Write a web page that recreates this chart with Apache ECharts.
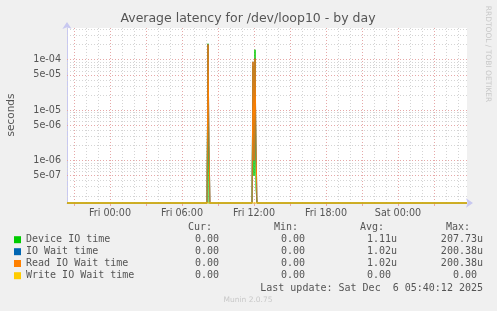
<!DOCTYPE html>
<html>
<head>
<meta charset="utf-8">
<script src="https://cdn.jsdelivr.net/npm/echarts@6/dist/echarts.min.js"></script>
<style>
html,body{margin:0;padding:0;background:#F0F0F0;}
#c{width:497px;height:311px;}
</style>
</head>
<body>
<div id="c"></div>
<script>
// ---- data ----
const titleText = 'Average latency for /dev/loop10 - by day';
const yAxisName = 'seconds';
const seriesNames = ['Device IO time', 'IO Wait time', 'Read IO Wait time', 'Write IO Wait time'];
// sample times in minutes relative to Fri 00:00
const sampleTimes = [-215, 485, 490, 495, 500, 710, 715, 720, 725, 730, 735, 740, 1785];
const deviceIO = [0, 0, 2.0773e-4, 0, 0, 0, 7.5e-5, 5e-7, 1.58e-4, 2.8e-7, 0, 0, 0];
const ioWait   = [0, 0, 2.0038e-4, 2e-6, 0, 0, 9.1e-5, 1e-6, 1.05e-4, 2e-6, 0, 0, 0];
const readWait = [0, 0, 2.0038e-4, 2e-6, 0, 0, 9.1e-5, 1e-6, 1.05e-4, 2e-6, 0, 0, 0];
const writeWait = [0, 0, 0, 0, 0, 0, 0, 0, 0, 0, 0, 0, 0];
const xTickValues = [0, 360, 720, 1080, 1440];
const xTickLabels = ['Fri 00:00', 'Fri 06:00', 'Fri 12:00', 'Fri 18:00', 'Sat 00:00'];
const yTickValues = [5e-7, 1e-6, 5e-6, 1e-5, 5e-5, 1e-4];
const yTickLabels = ['5e-07', '1e-06', '5e-06', '1e-05', '5e-05', '1e-04'];
const curValues = ['0.00', '0.00', '0.00', '0.00'];
const minValues = ['0.00', '0.00', '0.00', '0.00'];
const avgValues = ['1.11u', '1.02u', '1.02u', '0.00 '];
const maxValues = ['207.73u', '200.38u', '200.38u', '0.00 '];
const lastUpdate = 'Last update: Sat Dec  6 05:40:12 2025';
const footer = 'Munin 2.0.75';
const sideText = 'RRDTOOL / TOBI OETIKER';

// ---- config ----
const colors = ['#00CC00', '#0066B3', '#FF8000', '#FFCC00'];
const X_MIN = -215, X_MAX = 1785;
const Y_MIN = 1.435e-7, Y_MAX = 4.26e-4;
const LMIN = Math.log10(Y_MIN), LMAX = Math.log10(Y_MAX);
const gridColor = '#d4d4d4';
const majorColor = '#e6a8a8';

function toPts(arr) {
  return arr.map((v, i) => [sampleTimes[i], Math.log10(Math.max(v, Y_MIN))]);
}

// grid lines
const gridLines = [];
for (let d = -7; d <= -4; d++) {
  for (let m = 1; m <= 9; m++) {
    const v = m * Math.pow(10, d);
    if (v < Y_MIN || v > Y_MAX) continue;
    const major = (m === 1 || m === 5);
    gridLines.push({yAxis: Math.log10(v), lineStyle: {color: major ? majorColor : gridColor, type: [1, 2], width: 1}});
  }
}
for (let h = -180; h <= X_MAX; h += 60) {
  const major = (h % 180 === 0);
  gridLines.push({xAxis: h, lineStyle: {color: major ? majorColor : gridColor, type: [1, 2], width: 1}});
}

const dataSets = [deviceIO, ioWait, readWait, writeWait];
const series = dataSets.map((d, i) => ({
  name: seriesNames[i],
  type: 'line',
  data: toPts(d),
  symbol: 'none',
  clip: false,
  z: 3 + i,
  lineStyle: {color: colors[i], width: 1},
  itemStyle: {color: colors[i]},
  animation: false
}));
series.unshift({
  type: 'line', data: [], z: 1, silent: true, animation: false,
  markLine: {silent: true, symbol: 'none', z: 1, animation: false, label: {show: false}, data: gridLines}
});

const mono = '"DejaVu Sans Mono", monospace';
const sans = '"DejaVu Sans", sans-serif';
const graphics = [];
graphics.push({type: 'text', x: 248, y: 19, style: {text: titleText, font: '12.5px ' + sans, fill: '#555', textAlign: 'center', textVerticalAlign: 'middle'}});
graphics.push({type: 'text', x: 11, y: 115, rotation: Math.PI / 2, style: {text: yAxisName, font: '10.5px ' + sans, fill: '#555', textAlign: 'center', textVerticalAlign: 'middle'}});
graphics.push({type: 'text', x: 488, y: 54, rotation: -Math.PI / 2, style: {text: sideText, font: '7.5px ' + sans, fill: '#c8c8c8', textAlign: 'center', textVerticalAlign: 'middle'}});
// legend header
const hdr = [['Cur:', 212], ['Min:', 298], ['Avg:', 384], ['Max:', 470]];
hdr.forEach(h => graphics.push({type: 'text', x: h[1], y: 227.5, style: {text: h[0], font: '10px ' + mono, fill: '#555', textAlign: 'right', textVerticalAlign: 'middle'}}));
const rowY = [239.7, 251.7, 263.5, 275.7];
seriesNames.forEach((n, i) => {
  const y = rowY[i];
  graphics.push({type: 'rect', shape: {x: 14, y: y - 3.5, width: 7, height: 7}, style: {fill: colors[i]}});
  graphics.push({type: 'text', x: 26, y: y, style: {text: n, font: '10px ' + mono, fill: '#555', textVerticalAlign: 'middle'}});
  [[curValues[i], 219], [minValues[i], 305], [avgValues[i], 397], [maxValues[i], 483]].forEach(c => {
    let t = c[0]; let x = c[1];
    if (t.endsWith(' ')) { t = t.trim(); x -= 6; }
    graphics.push({type: 'text', x: x, y: y, style: {text: t, font: '10px ' + mono, fill: '#555', textAlign: 'right', textVerticalAlign: 'middle'}});
  });
});
graphics.push({type: 'text', x: 483, y: 288, style: {text: lastUpdate, font: '10px ' + mono, fill: '#555', textAlign: 'right', textVerticalAlign: 'middle', whiteSpace: 'pre'}});
graphics.push({type: 'text', x: 248, y: 300, style: {text: footer, font: '7.5px ' + sans, fill: '#c8c8c8', textAlign: 'center', textVerticalAlign: 'middle'}});

const chart = echarts.init(document.getElementById('c'), null, {renderer: 'canvas'});
chart.setOption({
  backgroundColor: '#F0F0F0',
  animation: false,
  grid: {left: 67, top: 28, width: 400, height: 175, show: true, backgroundColor: '#ffffff', borderWidth: 0},
  xAxis: {
    type: 'value', min: X_MIN, max: X_MAX,
    splitLine: {show: false},
    axisLine: {show: true, onZero: false, lineStyle: {color: '#c8c8f0', width: 1}, symbol: ['none', 'arrow'], symbolSize: [7, 7], symbolOffset: [0, 6]},
    axisTick: {show: true, length: 3, inside: false, customValues: [-180, 0, 180, 360, 540, 720, 900, 1080, 1260, 1440, 1620], lineStyle: {color: majorColor}},
    axisLabel: {
      customValues: xTickValues,
      formatter: v => { const i = xTickValues.indexOf(v); return i >= 0 ? xTickLabels[i] : ''; },
      color: '#555', fontFamily: 'DejaVu Sans', fontSize: 9.6, margin: 5
    }
  },
  yAxis: {
    type: 'value', min: LMIN, max: LMAX,
    splitLine: {show: false},
    axisLine: {show: true, onZero: false, lineStyle: {color: '#c8c8f0', width: 1}, symbol: ['none', 'arrow'], symbolSize: [7, 7], symbolOffset: [0, 6]},
    axisTick: {show: false},
    axisLabel: {
      customValues: yTickValues.map(v => Math.log10(v)),
      formatter: v => { for (let i = 0; i < yTickValues.length; i++) { if (Math.abs(Math.log10(yTickValues[i]) - v) < 1e-6) return yTickLabels[i]; } return ''; },
      color: '#555', fontFamily: 'DejaVu Sans', fontSize: 9.6, margin: 6
    }
  },
  series: series,
  graphic: graphics
});
</script>
</body>
</html>
